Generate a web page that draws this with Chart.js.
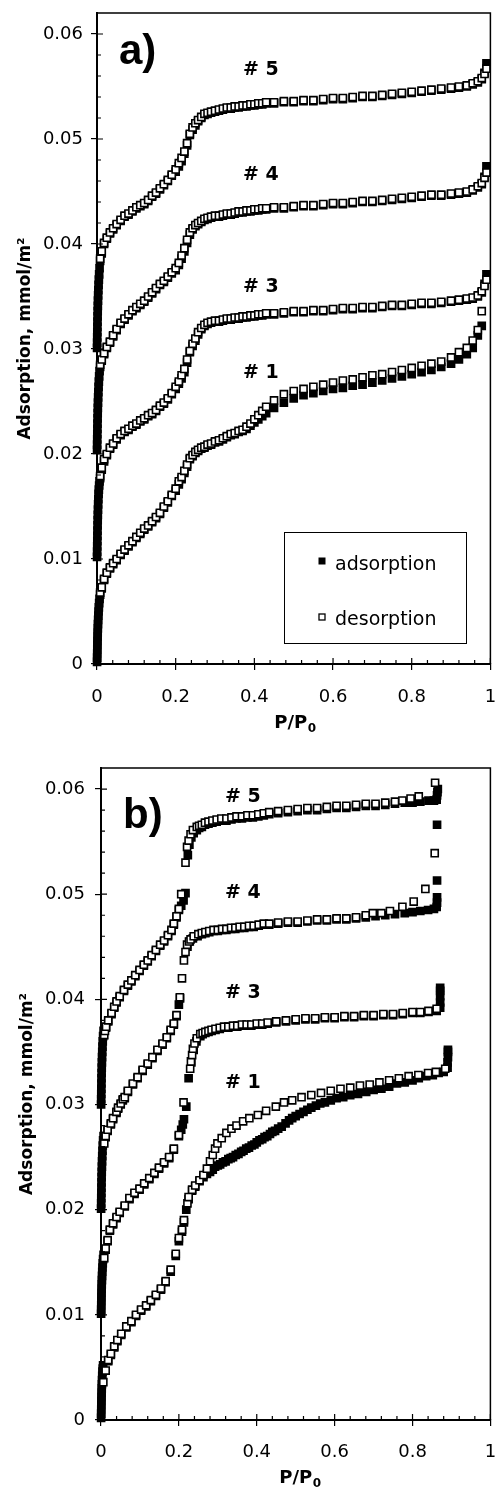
<!DOCTYPE html>
<html><head><meta charset="utf-8">
<script src="https://cdn.jsdelivr.net/npm/chart.js@4.4.1/dist/chart.umd.min.js"></script>
<style>
html,body{margin:0;padding:0;background:#fff;}
body{width:497px;height:1487px;position:relative;overflow:hidden;}
#wa{position:absolute;left:0;top:0;width:497px;height:735px;}
#wb{position:absolute;left:0;top:740px;width:497px;height:747px;}
canvas{display:block;}
</style></head><body>
<div id="wa"><canvas id="ca" width="497" height="735"></canvas></div>
<div id="wb"><canvas id="cb" width="497" height="747"></canvas></div>
<script>
// ---------- axes / ticks ----------
const X_TICKS = [0, 0.2, 0.4, 0.6, 0.8, 1];
const X_TICK_LABELS = ['0', '0.2', '0.4', '0.6', '0.8', '1'];
const X_MINOR = [0.04,0.08,0.12,0.16,0.24,0.28,0.32,0.36,0.44,0.48,0.52,0.56,0.64,0.68,0.72,0.76,0.84,0.88,0.92,0.96];
const Y_TICKS = [0, 0.01, 0.02, 0.03, 0.04, 0.05, 0.06];
const Y_TICK_LABELS = ['0', '0.01', '0.02', '0.03', '0.04', '0.05', '0.06'];
const Y_MINOR = [0.002,0.004,0.006,0.008,0.012,0.014,0.016,0.018,0.022,0.024,0.026,0.028,0.032,0.034,0.036,0.038,0.042,0.044,0.046,0.048,0.052,0.054,0.056,0.058];
const Y_TITLE = 'Adsorption, mmol/m\u00B2';
const SERIES_NAMES = ['adsorption', 'desorption'];

// ---------- panel a) : relative pressures ----------
const A_LOW_P = [0.0002,0.0004,0.0006,0.0008,0.001,0.0012,0.0015,0.0018,0.0021,0.0025,0.0029,0.0034,0.004,0.0047,0.0055,0.0065];
const A_P = [0.008,0.012,0.018,0.025,0.033,0.041,0.05,0.06,0.07,0.08,
0.09,0.1,0.11,0.12,0.13,0.14,0.15,0.16,0.17,0.18,
0.19,0.2,0.208,0.215,0.222,0.229,0.236,0.243,0.25,0.257,
0.265,0.273,0.281,0.29,0.3,0.31,0.32,0.33,0.34,0.35,
0.36,0.37,0.38,0.39,0.4,0.41,0.42,0.43,0.45,0.475,
0.5,0.525,0.55,0.575,0.6,0.625,0.65,0.675,0.7,0.725,
0.75,0.775,0.8,0.825,0.85,0.875,0.9,0.92,0.94,0.955,
0.968,0.978,0.985,0.99];

// sample #5
const A5_ADS_LOW = [0.0301,0.0306,0.0311,0.0316,0.0321,0.0326,0.0331,0.0336,0.0341,0.0346,0.0351,0.0356,0.0361,0.0366,0.0371,0.0377];
const A5_ADS = [0.0384,0.0391,0.0400,0.0405,0.0410,0.0414,0.0418,0.0422,0.0426,0.0428,
0.0431,0.0434,0.0436,0.0438,0.0441,0.0445,0.0448,0.0452,0.0456,0.0460,
0.0465,0.0469,0.0474,0.0479,0.0486,0.0494,0.0504,0.0509,0.0513,0.0517,
0.0520,0.0523,0.0524,0.0525,0.0526,0.0527,0.0528,0.0529,0.0529,0.0530,
0.0530,0.0531,0.0531,0.0532,0.0532,0.0533,0.0533,0.0534,0.0534,0.0535,
0.0535,0.0536,0.0536,0.0537,0.0538,0.0538,0.0539,0.0540,0.0540,0.0541,
0.0542,0.0543,0.0544,0.0545,0.0546,0.0547,0.0548,0.0549,0.0550,0.0552,
0.0554,0.0557,0.0563,0.0572];
const A5_DES = [0.0386,0.0393,0.0401,0.0406,0.0411,0.0415,0.0419,0.0423,0.0427,0.0429,
0.0432,0.0435,0.0437,0.0439,0.0442,0.0446,0.0449,0.0453,0.0457,0.0461,
0.0466,0.0471,0.0477,0.0482,0.0488,0.0496,0.0505,0.0511,0.0515,0.0518,
0.0521,0.0524,0.0525,0.0526,0.0527,0.0528,0.0529,0.0530,0.0530,0.0531,
0.0531,0.0532,0.0532,0.0533,0.0533,0.0534,0.0534,0.0535,0.0535,0.0536,
0.0536,0.0537,0.0537,0.0538,0.0539,0.0539,0.0540,0.0541,0.0541,0.0542,
0.0543,0.0544,0.0545,0.0546,0.0547,0.0548,0.0549,0.0550,0.0551,0.0553,
0.0555,0.0558,0.0562,0.0567];

// sample #4
const A4_ADS_LOW = [0.0204,0.0209,0.0214,0.0219,0.0224,0.0229,0.0234,0.0239,0.0244,0.0249,0.0254,0.0259,0.0264,0.0269,0.0274,0.0279];
const A4_ADS = [0.0283,0.0289,0.0295,0.0301,0.0306,0.0312,0.0318,0.0324,0.0328,0.0332,
0.0336,0.0339,0.0342,0.0345,0.0349,0.0353,0.0357,0.0361,0.0364,0.0368,
0.0372,0.0375,0.0380,0.0386,0.0393,0.0401,0.0409,0.0414,0.0417,0.0419,
0.0421,0.0423,0.0424,0.0425,0.0426,0.0426,0.0427,0.0428,0.0428,0.0429,
0.0430,0.0430,0.0431,0.0431,0.0432,0.0432,0.0433,0.0433,0.0434,0.0434,
0.0435,0.0436,0.0436,0.0437,0.0438,0.0438,0.0439,0.0440,0.0440,0.0441,
0.0442,0.0443,0.0444,0.0445,0.0446,0.0446,0.0447,0.0448,0.0449,0.0451,
0.0454,0.0457,0.0464,0.0474];
const A4_DES = [0.0285,0.0290,0.0296,0.0302,0.0307,0.0313,0.0319,0.0325,0.0329,0.0333,
0.0337,0.0340,0.0343,0.0346,0.0350,0.0354,0.0358,0.0362,0.0365,0.0369,
0.0373,0.0377,0.0382,0.0389,0.0396,0.0404,0.0411,0.0415,0.0418,0.0420,
0.0422,0.0424,0.0425,0.0426,0.0427,0.0427,0.0428,0.0429,0.0429,0.0430,
0.0431,0.0431,0.0432,0.0432,0.0433,0.0433,0.0434,0.0434,0.0435,0.0435,
0.0436,0.0437,0.0437,0.0438,0.0439,0.0439,0.0440,0.0441,0.0441,0.0442,
0.0443,0.0444,0.0445,0.0446,0.0447,0.0447,0.0448,0.0449,0.0450,0.0452,
0.0455,0.0458,0.0463,0.0468];

// sample #3
const A3_ADS_LOW = [0.0102,0.0107,0.0112,0.0117,0.0122,0.0127,0.0132,0.0137,0.0142,0.0147,0.0152,0.0157,0.0162,0.0166,0.0170,0.0174];
const A3_ADS = [0.0177,0.0185,0.0193,0.0199,0.0205,0.0209,0.0214,0.0218,0.0221,0.0223,
0.0226,0.0228,0.0231,0.0233,0.0236,0.0238,0.0241,0.0245,0.0248,0.0252,
0.0257,0.0262,0.0267,0.0272,0.0278,0.0287,0.0297,0.0303,0.0308,0.0314,
0.0319,0.0322,0.0324,0.0325,0.0326,0.0326,0.0327,0.0328,0.0328,0.0329,
0.0329,0.0330,0.0330,0.0331,0.0331,0.0332,0.0332,0.0333,0.0333,0.0334,
0.0335,0.0335,0.0336,0.0336,0.0337,0.0338,0.0338,0.0339,0.0339,0.0340,
0.0341,0.0341,0.0342,0.0343,0.0343,0.0344,0.0345,0.0346,0.0347,0.0348,
0.0350,0.0354,0.0362,0.0371];
const A3_DES = [0.0179,0.0187,0.0195,0.0200,0.0206,0.0210,0.0215,0.0219,0.0222,0.0224,
0.0227,0.0229,0.0232,0.0234,0.0237,0.0239,0.0242,0.0246,0.0249,0.0253,
0.0258,0.0264,0.0269,0.0275,0.0281,0.0290,0.0298,0.0305,0.0310,0.0316,
0.0320,0.0323,0.0325,0.0326,0.0327,0.0327,0.0328,0.0329,0.0329,0.0330,
0.0330,0.0331,0.0331,0.0332,0.0332,0.0333,0.0333,0.0334,0.0334,0.0335,
0.0336,0.0336,0.0337,0.0337,0.0338,0.0339,0.0339,0.0340,0.0340,0.0341,
0.0342,0.0342,0.0343,0.0344,0.0344,0.0345,0.0346,0.0347,0.0348,0.0349,
0.0351,0.0355,0.0360,0.0366];

// sample #1
const A1_ADS_LOW = [0.0002,0.0006,0.0010,0.0014,0.0018,0.0022,0.0026,0.0030,0.0034,0.0038,0.0042,0.0046,0.0050,0.0054,0.0058,0.0062];
const A1_ADS = [0.0066,0.0072,0.0080,0.0086,0.0091,0.0095,0.0099,0.0104,0.0108,0.0112,
0.0116,0.0120,0.0124,0.0128,0.0131,0.0135,0.0139,0.0143,0.0149,0.0154,
0.0160,0.0165,0.0171,0.0176,0.0182,0.0188,0.0195,0.0198,0.0201,0.0203,
0.0205,0.0206,0.0208,0.0209,0.0211,0.0212,0.0214,0.0216,0.0218,0.0219,
0.0221,0.0222,0.0224,0.0227,0.0230,0.0233,0.0236,0.0239,0.0244,0.0249,
0.0253,0.0256,0.0258,0.0260,0.0262,0.0263,0.0265,0.0266,0.0268,0.0270,
0.0272,0.0274,0.0276,0.0278,0.0280,0.0283,0.0286,0.0290,0.0295,0.0301,
0.0313,0.0322,null,null];
const A1_DES = [0.0068,0.0073,0.0081,0.0087,0.0092,0.0096,0.0100,0.0105,0.0109,0.0113,
0.0117,0.0121,0.0125,0.0129,0.0132,0.0136,0.0140,0.0144,0.0150,0.0155,
0.0161,0.0167,0.0174,0.0178,0.0184,0.0190,0.0196,0.0199,0.0202,0.0204,
0.0206,0.0207,0.0209,0.0210,0.0212,0.0213,0.0215,0.0217,0.0219,0.0220,
0.0222,0.0223,0.0226,0.0229,0.0233,0.0237,0.0241,0.0245,0.0251,0.0257,
0.0260,0.0262,0.0264,0.0266,0.0268,0.0270,0.0271,0.0273,0.0275,0.0276,
0.0278,0.0280,0.0282,0.0284,0.0286,0.0288,0.0292,0.0297,0.0301,0.0308,
0.0318,0.0336,null,null];

// ---------- panel b) : [P/P0, adsorption] pairs ----------
const B5_ADS = [[0.0003,0.0300],[0.0005,0.0305],[0.0007,0.0310],[0.0009,0.0315],[0.0011,0.0320],[0.0013,0.0325],[0.0016,0.0330],[0.0019,0.0335],[0.0023,0.0340],[0.0027,0.0345],[0.0032,0.0350],[0.0038,0.0355],[0.0045,0.0360],[0.0054,0.0365],[0.0066,0.0370],
[0.013,0.0373],[0.0186,0.0379],[0.027,0.0386],[0.034,0.0392],[0.040,0.0397],[0.048,0.0402],[0.059,0.0408],[0.069,0.0413],[0.078,0.0417],[0.088,0.0422],[0.099,0.0427],[0.11,0.0432],[0.12,0.0436],[0.13,0.0441],[0.141,0.0446],[0.152,0.0451],[0.162,0.0455],[0.172,0.0460],[0.181,0.0465],[0.187,0.0471],[0.194,0.0478],[0.2,0.0485],[0.206,0.0489],[0.212,0.0494],[0.217,0.0501],[0.223,0.0537],[0.227,0.0547],[0.232,0.0554],[0.238,0.0558],[0.246,0.0561],[0.252,0.0563],[0.259,0.0564],[0.267,0.0566],[0.276,0.0567],[0.286,0.0568],[0.297,0.0569],[0.309,0.0570],[0.322,0.0570],[0.335,0.0571],[0.348,0.0572],[0.362,0.0572],[0.376,0.0573],[0.39,0.0573],[0.404,0.0574],[0.418,0.0575],[0.432,0.0576],[0.455,0.0577],[0.48,0.0578],[0.505,0.0579],[0.53,0.0580],[0.555,0.0580],[0.58,0.0581],[0.605,0.0582],[0.63,0.0582],[0.655,0.0583],[0.68,0.0584],[0.705,0.0584],[0.73,0.0585],[0.755,0.0586],[0.78,0.0587],[0.8,0.0587],[0.82,0.0588],[0.841,0.0589],[0.855,0.0589],[0.862,0.0590],[0.863,0.0594],[0.864,0.0597],[0.865,0.0600]];
const B5_DES = [[0.0084,0.0366],[0.0101,0.0370],[0.013,0.0374],[0.0186,0.0380],[0.027,0.0387],[0.034,0.0393],[0.040,0.0398],[0.048,0.0403],[0.059,0.0409],[0.069,0.0414],[0.078,0.0418],[0.088,0.0423],[0.099,0.0428],[0.11,0.0433],[0.12,0.0437],[0.13,0.0442],[0.141,0.0447],[0.152,0.0452],[0.162,0.0456],[0.172,0.0461],[0.181,0.0466],[0.187,0.0472],[0.194,0.0479],[0.2,0.0486],[0.206,0.0500],[0.217,0.0530],[0.221,0.0545],[0.225,0.0551],[0.23,0.0557],[0.236,0.0561],[0.246,0.0564],[0.252,0.0565],[0.259,0.0566],[0.267,0.0568],[0.276,0.0569],[0.286,0.0570],[0.297,0.0571],[0.309,0.0572],[0.322,0.0572],[0.335,0.0573],[0.348,0.0574],[0.362,0.0574],[0.376,0.0575],[0.39,0.0575],[0.404,0.0576],[0.418,0.0577],[0.432,0.0578],[0.455,0.0579],[0.48,0.0580],[0.505,0.0581],[0.53,0.0582],[0.555,0.0582],[0.58,0.0583],[0.605,0.0584],[0.63,0.0584],[0.655,0.0585],[0.68,0.0586],[0.705,0.0586],[0.73,0.0587],[0.755,0.0588],[0.774,0.0589],[0.795,0.0591],[0.816,0.0593],[0.858,0.0606]];

const B4_ADS = [[0.0003,0.0201],[0.0005,0.0206],[0.0007,0.0211],[0.0009,0.0216],[0.0011,0.0221],[0.0013,0.0226],[0.0016,0.0231],[0.0019,0.0236],[0.0023,0.0241],[0.0027,0.0246],[0.0032,0.0251],[0.0038,0.0256],[0.0045,0.0261],[0.0054,0.0266],[0.0066,0.0270],
[0.012,0.0269],[0.017,0.0275],[0.0253,0.0281],[0.031,0.0286],[0.0397,0.0292],[0.044,0.0296],[0.0506,0.0300],[0.056,0.0304],[0.061,0.0306],[0.069,0.0312],[0.082,0.0319],[0.094,0.0325],[0.107,0.0332],[0.12,0.0338],[0.132,0.0344],[0.145,0.0351],[0.158,0.0357],[0.169,0.0363],[0.179,0.0370],[0.187,0.0376],[0.194,0.0384],[0.2,0.0395],[0.203,0.0401],[0.222,0.0450],[0.228,0.0455],[0.236,0.0458],[0.248,0.0460],[0.259,0.0462],[0.268,0.0463],[0.278,0.0464],[0.289,0.0465],[0.3,0.0465],[0.311,0.0466],[0.322,0.0466],[0.334,0.0467],[0.345,0.0467],[0.356,0.0468],[0.368,0.0468],[0.38,0.0469],[0.392,0.0469],[0.405,0.0470],[0.418,0.0471],[0.432,0.0471],[0.455,0.0472],[0.48,0.0473],[0.505,0.0473],[0.53,0.0474],[0.555,0.0475],[0.58,0.0475],[0.605,0.0476],[0.63,0.0476],[0.655,0.0477],[0.68,0.0478],[0.705,0.0479],[0.73,0.0480],[0.755,0.0481],[0.78,0.0482],[0.8,0.0483],[0.82,0.0484],[0.84,0.0485],[0.855,0.0486],[0.862,0.0488],[0.863,0.0492],[0.863,0.0497],[0.863,0.0513],[0.863,0.0566]];
const B4_DES = [[0.0084,0.0263],[0.012,0.0270],[0.017,0.0276],[0.0253,0.0282],[0.031,0.0287],[0.0397,0.0293],[0.044,0.0297],[0.0506,0.0301],[0.056,0.0305],[0.061,0.0307],[0.069,0.0313],[0.082,0.0320],[0.094,0.0326],[0.107,0.0333],[0.12,0.0339],[0.132,0.0345],[0.145,0.0352],[0.158,0.0358],[0.169,0.0364],[0.179,0.0371],[0.187,0.0377],[0.194,0.0385],[0.2025,0.0402],[0.208,0.0420],[0.213,0.0437],[0.217,0.0445],[0.221,0.0452],[0.226,0.0455],[0.23,0.0457],[0.238,0.0460],[0.25,0.0462],[0.259,0.0463],[0.268,0.0464],[0.278,0.0465],[0.289,0.0466],[0.3,0.0466],[0.311,0.0467],[0.322,0.0467],[0.334,0.0468],[0.345,0.0468],[0.356,0.0469],[0.368,0.0469],[0.38,0.0470],[0.392,0.0470],[0.405,0.0471],[0.418,0.0472],[0.432,0.0472],[0.455,0.0473],[0.48,0.0474],[0.505,0.0474],[0.53,0.0475],[0.555,0.0476],[0.58,0.0476],[0.605,0.0477],[0.63,0.0477],[0.655,0.0478],[0.68,0.0480],[0.698,0.0482],[0.72,0.0482],[0.742,0.0484],[0.774,0.0488],[0.803,0.0493],[0.833,0.0505],[0.857,0.0539]];

const B3_ADS = [[0.0003,0.0101],[0.0005,0.0105],[0.0007,0.0109],[0.0009,0.0113],[0.0011,0.0117],[0.0013,0.0121],[0.0016,0.0125],[0.0019,0.0129],[0.0023,0.0133],[0.0027,0.0137],[0.0032,0.0141],[0.0038,0.0145],[0.0045,0.0149],[0.0054,0.0153],[0.0066,0.0157],
[0.012,0.0162],[0.017,0.0170],[0.0228,0.0180],[0.031,0.0186],[0.040,0.0192],[0.048,0.0197],[0.061,0.0203],[0.073,0.0210],[0.086,0.0215],[0.099,0.0219],[0.111,0.0224],[0.124,0.0229],[0.137,0.0234],[0.149,0.0239],[0.162,0.0244],[0.175,0.0249],[0.187,0.0257],[0.2,0.0270],[0.206,0.0276],[0.21,0.0281],[0.213,0.0286],[0.219,0.0298],[0.225,0.0325],[0.232,0.0340],[0.238,0.0352],[0.245,0.0360],[0.255,0.0365],[0.261,0.0367],[0.268,0.0368],[0.276,0.0369],[0.284,0.0370],[0.294,0.0371],[0.305,0.0372],[0.316,0.0373],[0.327,0.0373],[0.339,0.0374],[0.35,0.0374],[0.362,0.0375],[0.374,0.0375],[0.386,0.0375],[0.4,0.0376],[0.414,0.0376],[0.428,0.0377],[0.45,0.0378],[0.475,0.0379],[0.5,0.0380],[0.525,0.0381],[0.55,0.0381],[0.575,0.0382],[0.6,0.0382],[0.625,0.0383],[0.65,0.0383],[0.675,0.0384],[0.7,0.0384],[0.725,0.0385],[0.75,0.0385],[0.775,0.0386],[0.8,0.0387],[0.82,0.0387],[0.841,0.0388],[0.862,0.0389],[0.871,0.0392],[0.871,0.0397],[0.871,0.0403],[0.871,0.0408],[0.871,0.0411]];
const B3_DES = [[0.0084,0.0154],[0.012,0.0163],[0.017,0.0171],[0.0228,0.0181],[0.031,0.0187],[0.040,0.0193],[0.048,0.0198],[0.061,0.0204],[0.073,0.0211],[0.086,0.0216],[0.099,0.0220],[0.111,0.0225],[0.124,0.0230],[0.137,0.0235],[0.149,0.0240],[0.162,0.0245],[0.175,0.0250],[0.187,0.0258],[0.2,0.0271],[0.212,0.0302],[0.229,0.0334],[0.231,0.0341],[0.234,0.0347],[0.236,0.0353],[0.24,0.0358],[0.246,0.0363],[0.255,0.0367],[0.261,0.0368],[0.268,0.0369],[0.276,0.0370],[0.284,0.0371],[0.294,0.0372],[0.305,0.0373],[0.316,0.0374],[0.327,0.0374],[0.339,0.0375],[0.35,0.0375],[0.362,0.0376],[0.374,0.0376],[0.386,0.0376],[0.4,0.0377],[0.414,0.0377],[0.428,0.0378],[0.45,0.0379],[0.475,0.0380],[0.5,0.0381],[0.525,0.0382],[0.55,0.0382],[0.575,0.0383],[0.6,0.0383],[0.625,0.0384],[0.65,0.0384],[0.675,0.0385],[0.7,0.0385],[0.725,0.0386],[0.75,0.0386],[0.775,0.0387],[0.8,0.0388],[0.82,0.0388],[0.841,0.0389],[0.862,0.0391]];

const B1_ADS = [[0.0003,0.0002],[0.0005,0.0006],[0.0007,0.0010],[0.0009,0.0014],[0.0011,0.0018],[0.0013,0.0022],[0.0016,0.0026],[0.0019,0.0030],[0.0023,0.0034],[0.0027,0.0038],[0.0032,0.0042],[0.0038,0.0046],[0.0045,0.0049],[0.0054,0.0052],
[0.0185,0.0056],[0.0253,0.0062],[0.034,0.0069],[0.042,0.0075],[0.052,0.0081],[0.065,0.0088],[0.078,0.0093],[0.09,0.0099],[0.103,0.0104],[0.116,0.0108],[0.128,0.0113],[0.141,0.0118],[0.154,0.0124],[0.166,0.0131],[0.179,0.0141],[0.192,0.0156],[0.2,0.0170],[0.208,0.0179],[0.213,0.0188],[0.219,0.0200],[0.225,0.0210],[0.234,0.0218],[0.242,0.0222],[0.253,0.0227],[0.263,0.0231],
[0.272,0.0234],[0.28,0.0236],[0.287,0.0238],[0.293,0.0241],[0.3,0.0242],[0.306,0.0243],[0.313,0.0245],[0.32,0.0246],[0.327,0.0248],[0.333,0.0249],[0.339,0.0250],[0.346,0.0252],[0.353,0.0253],[0.36,0.0255],[0.366,0.0256],[0.373,0.0258],[0.38,0.0259],[0.387,0.0261],[0.394,0.0262],[0.4,0.0264],[0.407,0.0266],[0.414,0.0267],[0.42,0.0269],[0.427,0.0270],[0.434,0.0272],[0.44,0.0274],[0.447,0.0275],[0.455,0.0277],[0.464,0.0279],[0.474,0.0282],[0.483,0.0285],[0.491,0.0287],[0.5,0.0289],[0.51,0.0291],[0.52,0.0293],[0.53,0.0295],[0.54,0.0297],[0.552,0.0299],[0.563,0.0301],[0.575,0.0302],[0.59,0.0304],[0.605,0.0306],[0.622,0.0307],[0.64,0.0309],[0.66,0.0310],[0.681,0.0312],[0.7,0.0314],[0.72,0.0315],[0.74,0.0317],[0.76,0.0320],[0.78,0.0321],[0.8,0.0323],[0.816,0.0325],[0.835,0.0327],[0.852,0.0328],[0.867,0.0330],[0.88,0.0331],[0.89,0.0335],[0.89,0.0340],[0.891,0.0345],[0.891,0.0350],[0.891,0.0352]];
const B1_DES = [[0.006,0.0036],[0.012,0.0047],[0.0185,0.0057],[0.0253,0.0063],[0.034,0.0070],[0.042,0.0076],[0.052,0.0082],[0.065,0.0089],[0.078,0.0094],[0.09,0.0100],[0.103,0.0105],[0.116,0.0109],[0.128,0.0114],[0.141,0.0119],[0.154,0.0125],[0.166,0.0132],[0.179,0.0143],[0.192,0.0158],[0.2,0.0173],[0.208,0.0181],[0.213,0.0190],[0.222,0.0206],[0.225,0.0212],[0.234,0.0219],[0.242,0.0223],[0.253,0.0228],[0.263,0.0233],[0.272,0.0239],[0.28,0.0246],[0.287,0.0252],[0.293,0.0258],[0.299,0.0263],[0.31,0.0268],[0.322,0.0273],[0.335,0.0277],[0.348,0.0280],[0.365,0.0284],[0.381,0.0287],[0.403,0.0290],[0.424,0.0294],[0.449,0.0298],[0.47,0.0302],[0.491,0.0304],[0.515,0.0307],[0.54,0.0309],[0.565,0.0311],[0.59,0.0313],[0.615,0.0315],[0.64,0.0316],[0.665,0.0318],[0.69,0.0319],[0.715,0.0321],[0.74,0.0323],[0.765,0.0325],[0.79,0.0327],[0.815,0.0328],[0.84,0.0330],[0.86,0.0331],[0.884,0.0334]];

// ---------- helpers ----------
const FONT = '"DejaVu Sans", "Liberation Sans", sans-serif';
const gridPts = (xs, ys) => xs.map((x, i) => ({x: x, y: ys[i]})).filter(p => p.y !== null);
const pairPts = arr => arr.map(p => ({x: p[0], y: p[1]}));

function ds(label, pts, filled) {
  return {
    label: label, data: pts, showLine: false, clip: false,
    order: filled ? 1 : 0,
    pointStyle: 'rect', pointRadius: 5, pointHoverRadius: 5,
    pointBorderWidth: 1.6, borderWidth: 1.6,
    pointBackgroundColor: filled ? '#000' : '#fff', backgroundColor: filled ? '#000' : '#fff',
    pointBorderColor: '#000', borderColor: '#000'
  };
}

function deco(cfg) {
  return {
    id: 'deco',
    afterDraw(chart) {
      const ctx = chart.ctx, ca = chart.chartArea, sx = chart.scales.x, sy = chart.scales.y;
      ctx.save();
      ctx.strokeStyle = '#000'; ctx.fillStyle = '#000';
      // frame top/right
      ctx.lineWidth = 1.5;
      ctx.beginPath();
      ctx.moveTo(ca.left, ca.top); ctx.lineTo(ca.right, ca.top); ctx.lineTo(ca.right, ca.bottom);
      ctx.stroke();
      // inner tick marks
      ctx.lineWidth = 1.2;
      ctx.beginPath();
      X_MINOR.forEach(v => { const p = sx.getPixelForValue(v); ctx.moveTo(p, ca.bottom); ctx.lineTo(p, ca.bottom - 4); });
      X_TICKS.forEach(v => { const p = sx.getPixelForValue(v); ctx.moveTo(p, ca.bottom); ctx.lineTo(p, ca.bottom - 6); });
      Y_MINOR.forEach(v => { const p = sy.getPixelForValue(v); ctx.moveTo(ca.left, p); ctx.lineTo(ca.left + 4, p); });
      Y_TICKS.forEach(v => { const p = sy.getPixelForValue(v); ctx.moveTo(ca.left, p); ctx.lineTo(ca.left + 6, p); });
      ctx.stroke();
      // panel letter
      ctx.textAlign = 'left'; ctx.textBaseline = 'alphabetic';
      ctx.font = 'bold 42px "Liberation Sans", Arial, sans-serif';
      ctx.fillText(cfg.panel.text, cfg.panel.x, cfg.panel.y);
      // sample tags
      ctx.font = 'bold 19px ' + FONT;
      cfg.tags.forEach(t => ctx.fillText(t.text, t.x, t.y));
      // y title
      ctx.save();
      ctx.translate(0, (ca.top + ca.bottom) / 2);
      ctx.rotate(-Math.PI / 2);
      ctx.textAlign = 'center';
      ctx.font = 'bold 17px ' + FONT;
      ctx.fillText(Y_TITLE, 0, cfg.yTitleBase);
      ctx.restore();
      // x title  P/P0
      ctx.textAlign = 'left';
      ctx.font = 'bold 18px ' + FONT;
      const w1 = ctx.measureText('P/P').width;
      ctx.font = 'bold 12px ' + FONT;
      const w2 = ctx.measureText('0').width;
      const x0 = cfg.xTitle.x - (w1 + w2) / 2;
      ctx.font = 'bold 18px ' + FONT;
      ctx.fillText('P/P', x0, cfg.xTitle.y);
      ctx.font = 'bold 12px ' + FONT;
      ctx.fillText('0', x0 + w1 + 0.5, cfg.xTitle.y + 4);
      // legend
      if (cfg.legend) {
        const L = cfg.legend;
        ctx.lineWidth = 1;
        ctx.strokeRect(L.x + 0.5, L.y + 0.5, L.w, L.h);
        ctx.fillStyle = '#000';
        ctx.fillRect(L.mx - 3.5, L.r1 - 3.5, 7, 7);
        ctx.fillStyle = '#fff';
        ctx.fillRect(L.mx - 3, L.r2 - 3, 6, 6);
        ctx.lineWidth = 1.3;
        ctx.strokeRect(L.mx - 3, L.r2 - 3, 6, 6);
        ctx.fillStyle = '#000';
        ctx.font = '19px ' + FONT;
        ctx.fillText(SERIES_NAMES[0], L.tx, L.b1);
        ctx.fillText(SERIES_NAMES[1], L.tx, L.b2);
      }
      ctx.restore();
    }
  };
}

function makeChart(id, datasets, geo, decoCfg) {
  return new Chart(document.getElementById(id), {
    type: 'scatter',
    data: { datasets: datasets },
    options: {
      responsive: false, animation: false, devicePixelRatio: 1, events: [],
      layout: { padding: { top: geo.top, right: geo.right, left: 0, bottom: 0 } },
      plugins: { legend: { display: false }, tooltip: { enabled: false } },
      scales: {
        x: {
          type: 'linear', min: 0, max: 1,
          afterBuildTicks: s => { s.ticks = X_TICKS.map(v => ({ value: v })); },
          afterFit: s => { s.height = geo.xh; s.paddingLeft = 0; s.paddingRight = 0; },
          ticks: { callback: (v, i) => X_TICK_LABELS[i], autoSkip: false, maxRotation: 0, minRotation: 0,
                   color: '#000', font: { family: FONT, size: 18 }, padding: geo.xpad },
          grid: { drawOnChartArea: false, drawTicks: true, tickLength: 6, color: '#000', lineWidth: 1.2 },
          border: { display: true, color: '#000', width: 2 }
        },
        y: {
          type: 'linear', min: 0, max: 0.062,
          afterBuildTicks: s => { s.ticks = Y_TICKS.map(v => ({ value: v })); },
          afterFit: s => { s.width = geo.yw; s.paddingTop = 0; s.paddingBottom = 0; },
          ticks: { callback: (v, i) => Y_TICK_LABELS[i], autoSkip: false,
                   color: '#000', font: { family: FONT, size: 18 }, padding: geo.ypad },
          grid: { drawOnChartArea: false, drawTicks: true, tickLength: 6, color: '#000', lineWidth: 1.2 },
          border: { display: true, color: '#000', width: 2 }
        }
      }
    },
    plugins: [deco(decoCfg)]
  });
}

// ---------- panel a ----------
const A_LOW_AND_P = A_LOW_P.concat(A_P);
const dsA = [
  ds('#5 desorption', gridPts(A_P, A5_DES), false),
  ds('#5 adsorption', gridPts(A_LOW_AND_P, A5_ADS_LOW.concat(A5_ADS)), true),
  ds('#4 desorption', gridPts(A_P, A4_DES), false),
  ds('#4 adsorption', gridPts(A_LOW_AND_P, A4_ADS_LOW.concat(A4_ADS)), true),
  ds('#3 desorption', gridPts(A_P, A3_DES), false),
  ds('#3 adsorption', gridPts(A_LOW_AND_P, A3_ADS_LOW.concat(A3_ADS)), true),
  ds('#1 desorption', gridPts(A_P, A1_DES), false),
  ds('#1 adsorption', gridPts(A_LOW_AND_P, A1_ADS_LOW.concat(A1_ADS)), true)
];
makeChart('ca', dsA, { top: 13, right: 4, yw: 97, xh: 71, xpad: 17, ypad: 8 }, {
  panel: { text: 'a)', x: 119, y: 64 },
  tags: [ { text: '# 5', x: 243, y: 75 }, { text: '# 4', x: 243, y: 180 },
          { text: '# 3', x: 243, y: 292 }, { text: '# 1', x: 243, y: 378 } ],
  yTitleBase: 29.5,
  xTitle: { x: 295, y: 728 },
  legend: { x: 284, y: 532, w: 182, h: 111, mx: 322, r1: 561, r2: 617, tx: 335, b1: 570, b2: 625 }
});

// ---------- panel b ----------
const dsB = [
  ds('#5 desorption', pairPts(B5_DES), false),
  ds('#5 adsorption', pairPts(B5_ADS), true),
  ds('#4 desorption', pairPts(B4_DES), false),
  ds('#4 adsorption', pairPts(B4_ADS), true),
  ds('#3 desorption', pairPts(B3_DES), false),
  ds('#3 adsorption', pairPts(B3_ADS), true),
  ds('#1 desorption', pairPts(B1_DES), false),
  ds('#1 adsorption', pairPts(B1_ADS), true)
];
makeChart('cb', dsB, { top: 28, right: 2, yw: 101, xh: 67, xpad: 16, ypad: 10 }, {
  panel: { text: 'b)', x: 123, y: 88 },
  tags: [ { text: '# 5', x: 225, y: 62 }, { text: '# 4', x: 225, y: 158 },
          { text: '# 3', x: 225, y: 258 }, { text: '# 1', x: 225, y: 348 } ],
  yTitleBase: 31.5,
  xTitle: { x: 300, y: 743 },
  legend: null
});
</script>
</body></html>
